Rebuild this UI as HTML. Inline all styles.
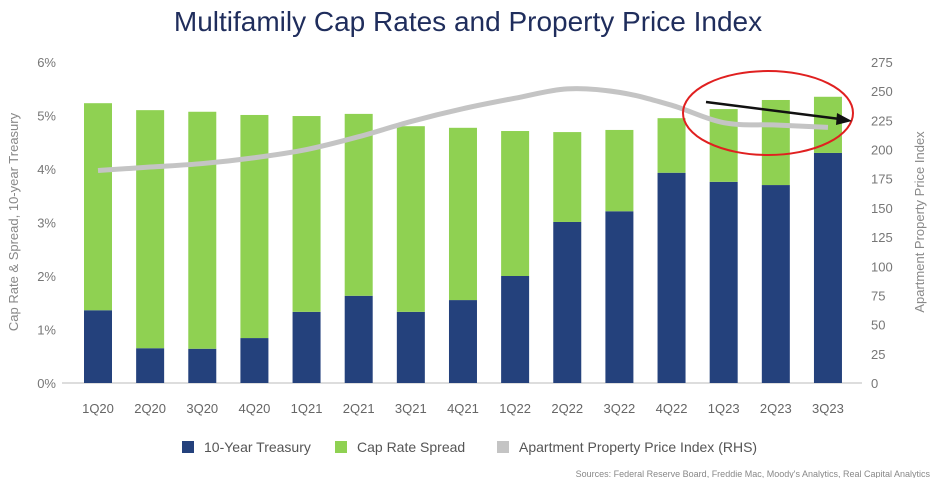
<!DOCTYPE html>
<html><head><meta charset="utf-8"><style>
body{margin:0;background:#fff;width:936px;height:478px;overflow:hidden;font-family:"Liberation Sans",sans-serif}
</style></head><body>
<svg id="c" width="936" height="478" xmlns="http://www.w3.org/2000/svg"></svg>
<script>
const categories=["1Q20","2Q20","3Q20","4Q20","1Q21","2Q21","3Q21","4Q21","1Q22","2Q22","3Q22","4Q22","1Q23","2Q23","3Q23"];
const treasury=[1.36,0.65,0.64,0.84,1.33,1.63,1.33,1.55,2.0,3.01,3.21,3.93,3.76,3.70,4.30];
const spread=[3.87,4.45,4.43,4.17,3.66,3.40,3.47,3.22,2.71,1.68,1.52,1.02,1.36,1.59,1.05];
const priceIndex=[182,185,188,193,200,211,224,235,244,252,249,238,223,221,219];
const leftTicks=[0,1,2,3,4,5,6];
const rightTicks=[0,25,50,75,100,125,150,175,200,225,250,275];
const svg=document.getElementById('c');const NS="http://www.w3.org/2000/svg";
function mk(t,a,txt){const e=document.createElementNS(NS,t);for(const k in a)e.setAttribute(k,a[k]);if(txt!==undefined)e.textContent=txt;svg.appendChild(e);return e;}
const y0=383,yTop=62,x0=98,dx=52.14,bw=28;
const yL=v=>y0-(v/6)*(y0-yTop);
const yR=v=>y0-(v/275)*(y0-yTop);
const xC=i=>x0+i*dx;
let e=mk('text',{x:468,y:31,'text-anchor':'middle','font-size':28,fill:'#1f2d5c'},'Multifamily Cap Rates and Property Price Index');

leftTicks.forEach(v=>{const t=mk('text',{x:56,y:yL(v)+5,'text-anchor':'end','font-size':13,fill:'#777'},v+'%');});
rightTicks.forEach(v=>{const t=mk('text',{x:871,y:yR(v)+5,'text-anchor':'start','font-size':13,fill:'#777'},v);});
e=mk('line',{x1:62,y1:y0,x2:862,y2:y0,stroke:'#bbb'});
e=mk('text',{x:0,y:0,transform:'translate(18,222) rotate(-90)','text-anchor':'middle','font-size':13,fill:'#888'},'Cap Rate & Spread, 10-year Treasury');
e=mk('text',{x:0,y:0,transform:'translate(924,222) rotate(-90)','text-anchor':'middle','font-size':13,fill:'#888'},'Apartment Property Price Index');
categories.forEach((c,i)=>{
 const x=xC(i)-bw/2;
 let b=mk('rect',{x:x,y:yL(treasury[i]),width:bw,height:y0-yL(treasury[i]),fill:'#24417c'});
 const tot=treasury[i]+spread[i];
 b=mk('rect',{x:x,y:yL(tot),width:bw,height:yL(treasury[i])-yL(tot),fill:'#8fd152'});
 const t=mk('text',{x:xC(i),y:413,'text-anchor':'middle','font-size':13,fill:'#666'},c);
});
let pts=priceIndex.map((v,i)=>[xC(i),yR(v)]);
let d='M'+pts[0][0]+','+pts[0][1];
for(let i=1;i<pts.length;i++){const p0=pts[i-1],p1=pts[i],pm=pts[i-2]||p0,p2=pts[i+1]||p1;
 const c1=[p0[0]+(p1[0]-pm[0])/6,p0[1]+(p1[1]-pm[1])/6],c2=[p1[0]-(p2[0]-p0[0])/6,p1[1]-(p2[1]-p0[1])/6];
 d+=` C${c1[0]},${c1[1]} ${c2[0]},${c2[1]} ${p1[0]},${p1[1]}`;}
e=mk('path',{d:d,fill:'none',stroke:'#c4c4c4','stroke-width':5});
e=mk('ellipse',{cx:768,cy:113,rx:85,ry:42,fill:'none',stroke:'#e02020','stroke-width':2});
e=mk('line',{x1:706,y1:102,x2:840,y2:119,stroke:'#111','stroke-width':2.5});
e=mk('polygon',{points:'852,121 837,113 836,125',fill:'#111'});
const leg=[[182,'#24417c','10-Year Treasury'],[335,'#8fd152','Cap Rate Spread'],[497,'#c4c4c4','Apartment Property Price Index (RHS)']];
leg.forEach(l=>{let r=mk('rect',{x:l[0],y:441,width:12,height:12,fill:l[1]});
 let t=mk('text',{x:l[0]+22,y:452,'font-size':14,fill:'#555'},l[2]);});
e=mk('text',{x:930,y:477,'text-anchor':'end','font-size':9,fill:'#888'},"Sources: Federal Reserve Board, Freddie Mac, Moody's Analytics, Real Capital Analytics");
</script>
</body></html>
